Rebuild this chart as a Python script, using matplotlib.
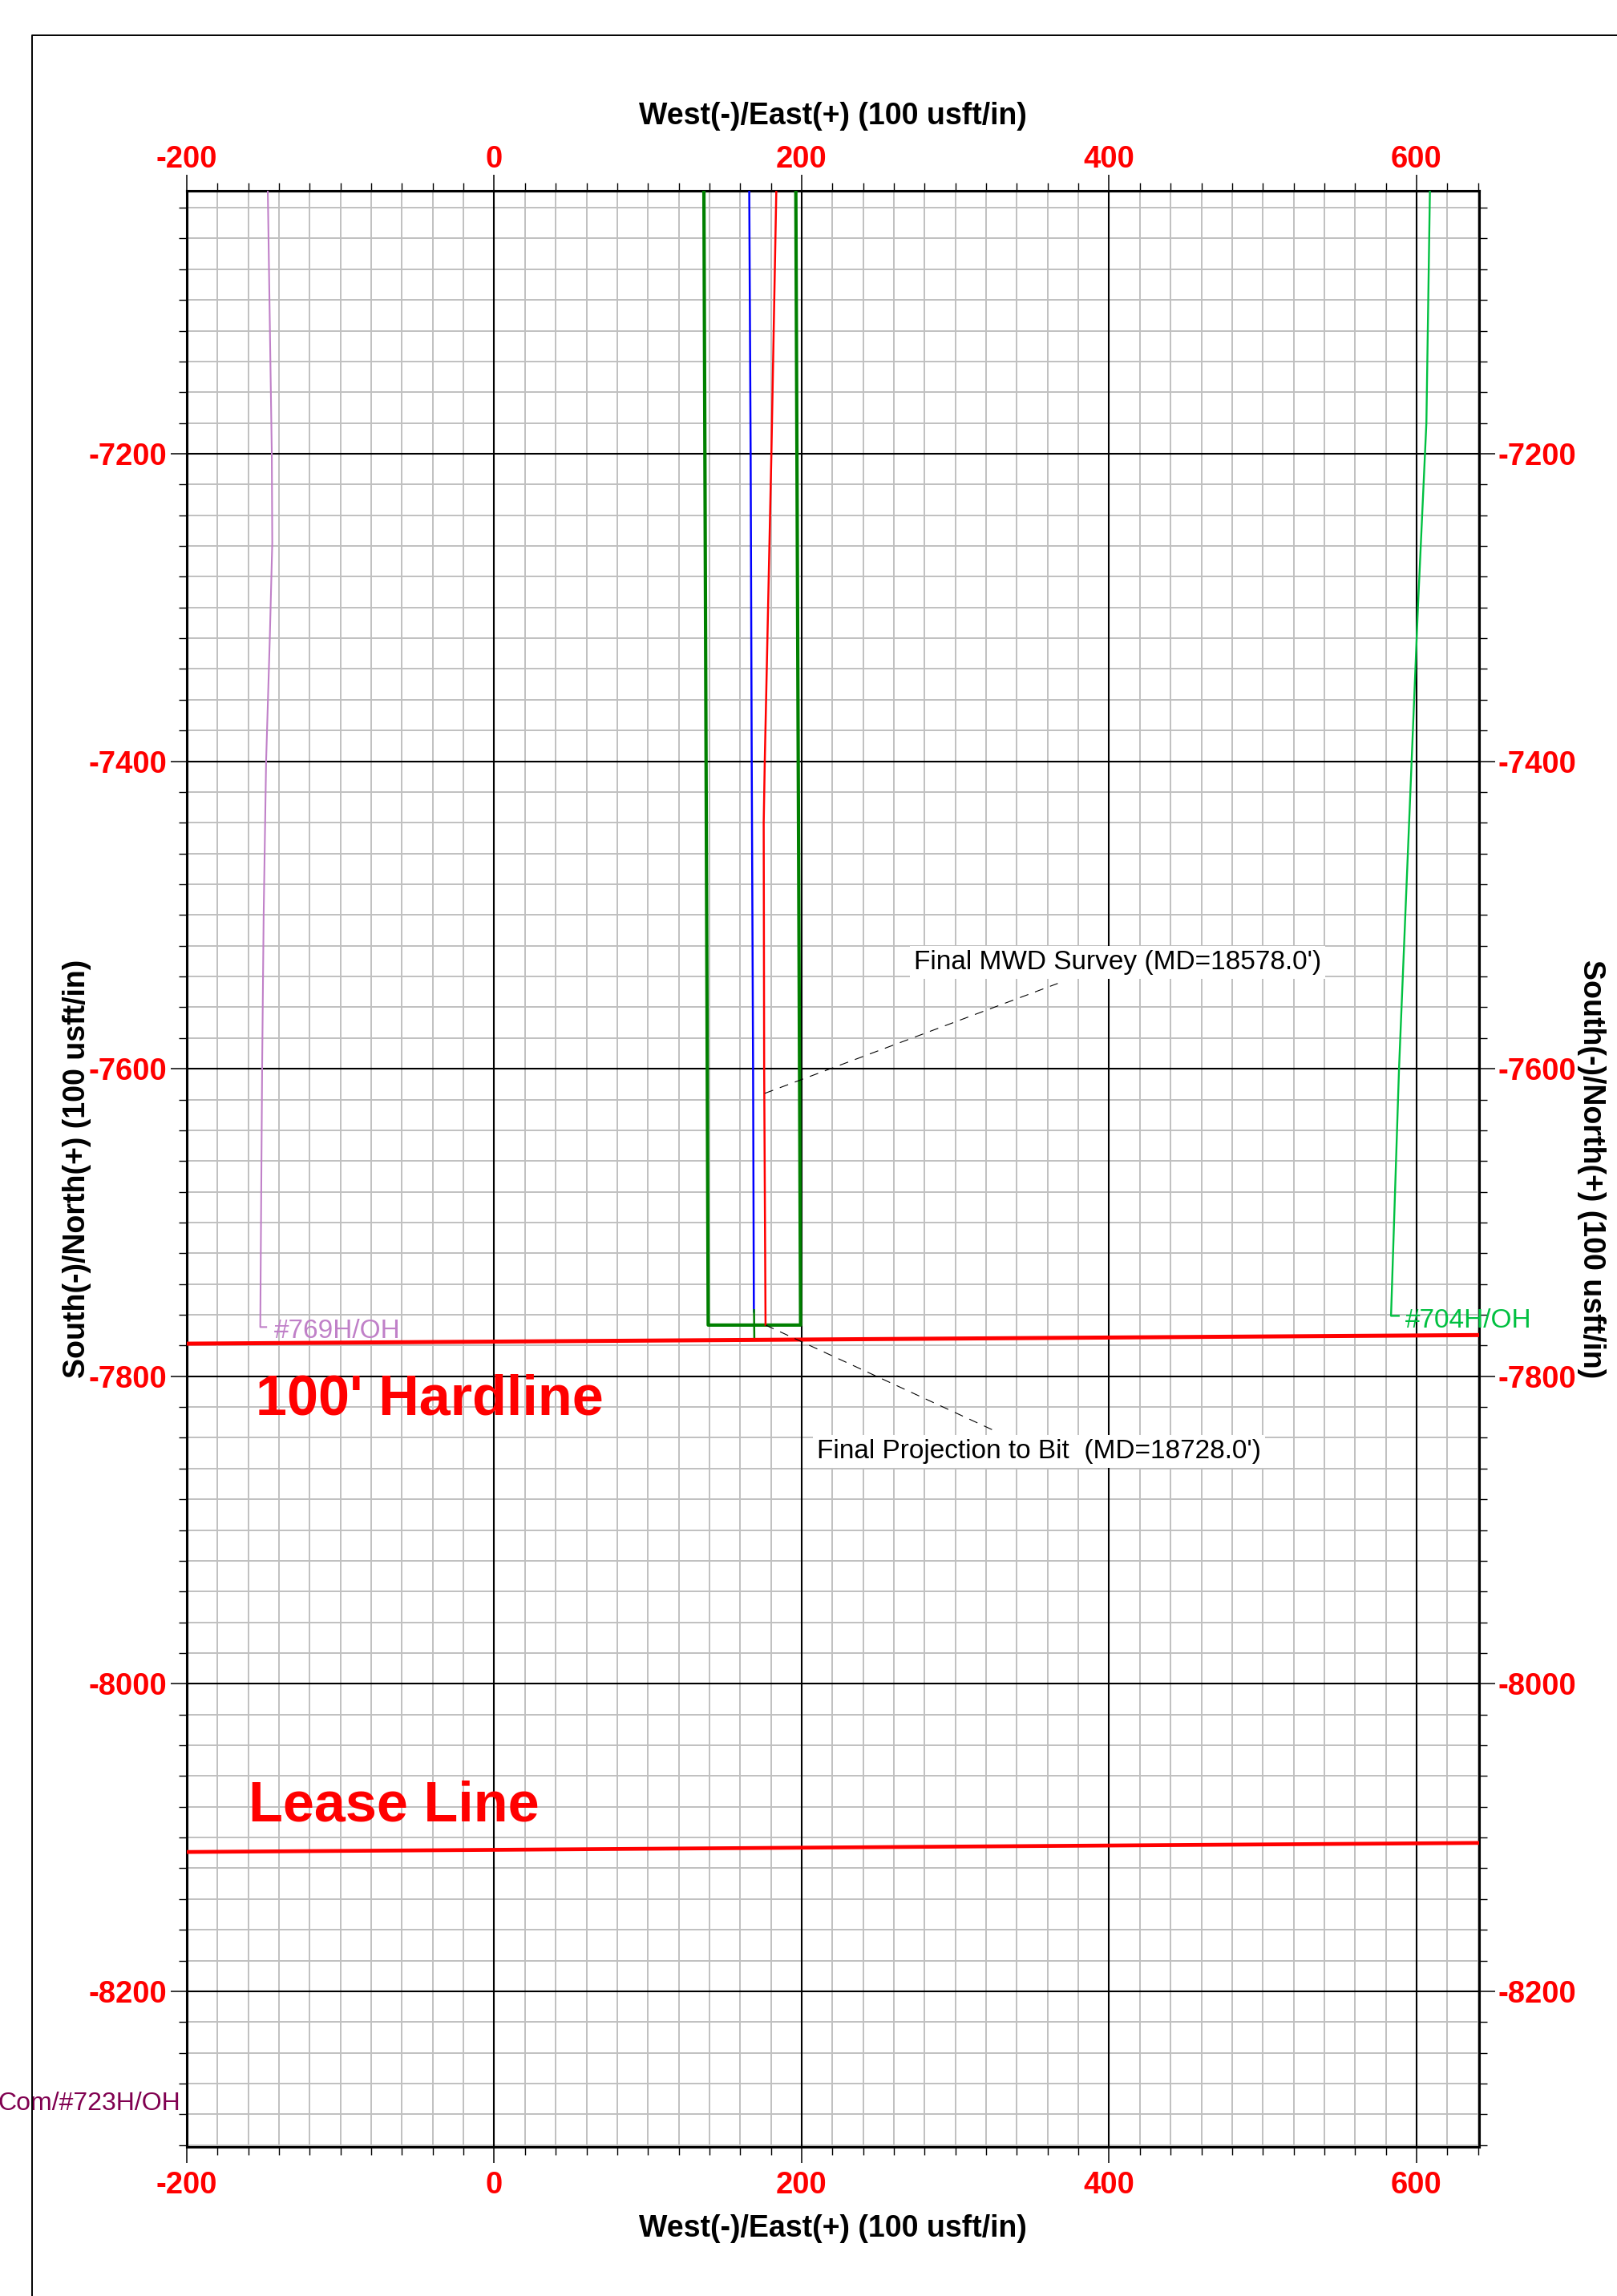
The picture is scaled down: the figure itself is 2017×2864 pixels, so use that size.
import numpy as np
import matplotlib
matplotlib.use("Agg")
import matplotlib.pyplot as plt
from matplotlib.lines import Line2D
from matplotlib.ticker import MultipleLocator

plt.rcParams['font.family'] = ['Liberation Sans', 'DejaVu Sans']
plt.rcParams['axes.unicode_minus'] = False

# ---------------- data ----------------
x_ticks = [-200, 0, 200, 400, 600]
x_tick_labels = ['-200', '0', '200', '400', '600']
y_ticks = [-8200, -8000, -7800, -7600, -7400, -7200]
y_tick_labels = ['-8200', '-8000', '-7800', '-7600', '-7400', '-7200']
x_limits = [-200, 640.7]
y_limits = [-8301.3, -7029.0]

# well #769H/OH (purple)
w769_x = [-147.3, -144.7, -144.4, -146.0, -148.4, -150.0, -151.0, -152.2, -148.3]
w769_y = [-7029, -7200, -7258, -7320, -7400, -7500, -7600, -7768, -7768]
w769_label = "#769H/OH"

# well #704H/OH (bright green)
w704_x = [608.7, 606.4, 600.9, 588.6, 583.4, 588.4]
w704_y = [-7029, -7180, -7300, -7600, -7760.7, -7760.7]
w704_label = "#704H/OH"

# target box (dark green)
box_x = [136.4, 139.2, 199.3, 196.2]
box_y = [-7029, -7766.7, -7766.7, -7029]

# plan (blue)
plan_x = [165.9, 166.8, 167.5, 168.4, 168.9]
plan_y = [-7029, -7200, -7400, -7600, -7758]
plan_tail_x = [169.0, 169.2]
plan_tail_y = [-7757, -7775.5]

# actual survey (red)
svy_x = [183.5, 180.3, 176.0, 175.3, 175.6, 176.5]
svy_y = [-7029, -7200, -7400, -7440, -7600, -7766.7]

# hard line and lease line
hard_x = [-200, 641]
hard_y = [-7778.8, -7773.2]
lease_x = [-200, 641]
lease_y = [-8109.4, -8103.5]

# annotations
mwd_text = "Final MWD Survey (MD=18578.0')"
mwd_leader_x = [176.0, 366.6]
mwd_leader_y = [-7616, -7544.5]
bit_text = "Final Projection to Bit  (MD=18728.0')"
bit_leader_x = [176.5, 324.7]
bit_leader_y = [-7766.7, -7835.1]
com_label = "Com/#723H/OH"

# ---------------- figure ----------------
W, H = 2017, 2864
fig = plt.figure(figsize=(W / 100, H / 100), dpi=100)
ax_l, ax_r, ax_t, ax_b = 233, 1845, 238, 2678.2
ax = fig.add_axes([ax_l / W, 1 - ax_b / H, (ax_r - ax_l) / W, (ax_b - ax_t) / H])
ax.set_xlim(x_limits)
ax.set_ylim(y_limits)
ax.set_axisbelow(True)

# ticks
ax.set_xticks(x_ticks)
ax.set_xticklabels(x_tick_labels)
ax.set_yticks(y_ticks)
ax.set_yticklabels(y_tick_labels)
ax.xaxis.set_minor_locator(MultipleLocator(20))
ax.yaxis.set_minor_locator(MultipleLocator(20))
tick_font = dict(fontsize=27.5, fontweight='bold', color='red')
ax.tick_params(which='major', direction='out', length=14.4, width=1.1,
               top=False, right=False, labelsize=27.5, labelcolor='red')
ax.tick_params(which='minor', direction='out', length=7.2, width=1.0,
               top=False, right=False)
ax.tick_params(axis='x', which='major', pad=7)
ax.tick_params(axis='y', which='major', pad=3.3)
for lab in ax.get_xticklabels() + ax.get_yticklabels():
    lab.set_fontweight('bold')

secx = ax.secondary_xaxis('top')
secx.set_xticks(x_ticks)
secx.set_xticklabels(x_tick_labels)
secx.xaxis.set_minor_locator(MultipleLocator(20))
secx.tick_params(which='major', direction='out', length=14.4, width=1.1, pad=1.0,
                 labelsize=27.5, labelcolor='red')
secx.tick_params(which='minor', direction='out', length=7.2, width=1.0)
for lab in secx.get_xticklabels():
    lab.set_fontweight('bold')

secy = ax.secondary_yaxis('right')
secy.set_yticks(y_ticks)
secy.set_yticklabels(y_tick_labels)
secy.yaxis.set_minor_locator(MultipleLocator(20))
secy.tick_params(which='major', direction='out', length=14.4, width=1.1, pad=2.4,
                 labelsize=27.5, labelcolor='red')
secy.tick_params(which='minor', direction='out', length=7.2, width=1.0)
for lab in secy.get_yticklabels():
    lab.set_fontweight('bold')

for s in list(ax.spines.values()) + list(secx.spines.values()) + list(secy.spines.values()):
    s.set_linewidth(2.2)
    s.set_color('black')

# grid
ax.grid(which='minor', color='#C0C0C0', linewidth=1.4)
for xv in x_ticks:
    ax.axvline(xv, color='black', linewidth=1.5, zorder=1)
for yv in y_ticks:
    ax.axhline(yv, color='black', linewidth=1.5, zorder=1)

# wells
ax.plot(w769_x, w769_y, color='#C080C8', linewidth=1.5, zorder=3)
ax.text(-143.2, -7774.9, w769_label, color='#C080C8', fontsize=24,
        ha='left', va='baseline', zorder=5)
ax.plot(w704_x, w704_y, color='#00C040', linewidth=1.7, zorder=3)
ax.text(592.9, -7768.3, w704_label, color='#00C040', fontsize=24,
        ha='left', va='baseline', clip_on=False, zorder=5)
ax.plot(box_x, box_y, color='#008000', linewidth=3.0, zorder=3)
ax.plot(plan_x, plan_y, color='#0000FF', linewidth=1.8, zorder=3)
ax.plot(plan_tail_x, plan_tail_y, color='#008000', linewidth=1.8, zorder=3)
ax.plot(svy_x, svy_y, color='#FF0000', linewidth=1.8, zorder=3)

# boundaries
ax.plot(hard_x, hard_y, color='#FF0000', linewidth=3.6, zorder=4)
ax.plot(lease_x, lease_y, color='#FF0000', linewidth=3.4, zorder=4)
ax.text(-155.4, -7825.1, "100' Hardline", color='#FF0000', fontsize=50.5,
        fontweight='bold', ha='left', va='baseline', zorder=5)
ax.text(-159.8, -8089.5, "Lease Line", color='#FF0000', fontsize=50.5,
        fontweight='bold', ha='left', va='baseline', zorder=5)

# annotations
ax.plot(mwd_leader_x, mwd_leader_y, color='black', linewidth=0.8,
        dashes=(10, 8), zorder=4)
ax.plot(bit_leader_x, bit_leader_y, color='black', linewidth=0.8,
        dashes=(10, 8), zorder=4)
ax.text(405.5, -7531, mwd_text, fontsize=24, ha='center', va='center', zorder=6,
        bbox=dict(boxstyle='square,pad=0.15', facecolor='white', edgecolor='none'))
ax.text(354.4, -7848.8, bit_text, fontsize=24, ha='center', va='center', zorder=6,
        bbox=dict(boxstyle='square,pad=0.15', facecolor='white', edgecolor='none'))
ax.text(-204.2, -8273, com_label, color='#800050', fontsize=23,
        ha='right', va='center', clip_on=False, zorder=6)

# axis titles
xc = (ax_l + ax_r) / 2 / W
yc = 1 - (ax_t + ax_b) / 2 / H
lab_font = dict(fontsize=27, fontweight='bold', color='black')
fig.text(xc, 1 - 155 / H, "West(-)/East(+) (100 usft/in)", ha='center', va='baseline', **lab_font)
fig.text(xc, 1 - 2790 / H, "West(-)/East(+) (100 usft/in)", ha='center', va='baseline', **lab_font)
fig.text(96 / W, yc, "South(-)/North(+) (100 usft/in)", rotation=90,
         ha='center', va='center', **lab_font)
fig.text(1985 / W, yc, "South(-)/North(+) (100 usft/in)", rotation=270,
         ha='center', va='center', **lab_font)

# outer frame
fig.add_artist(Line2D([40 / W, 40 / W, 1.0], [0.0, 1 - 44.3 / H, 1 - 44.3 / H],
                      transform=fig.transFigure, color='black', linewidth=1.4))

fig.savefig('out.png', dpi=100)
